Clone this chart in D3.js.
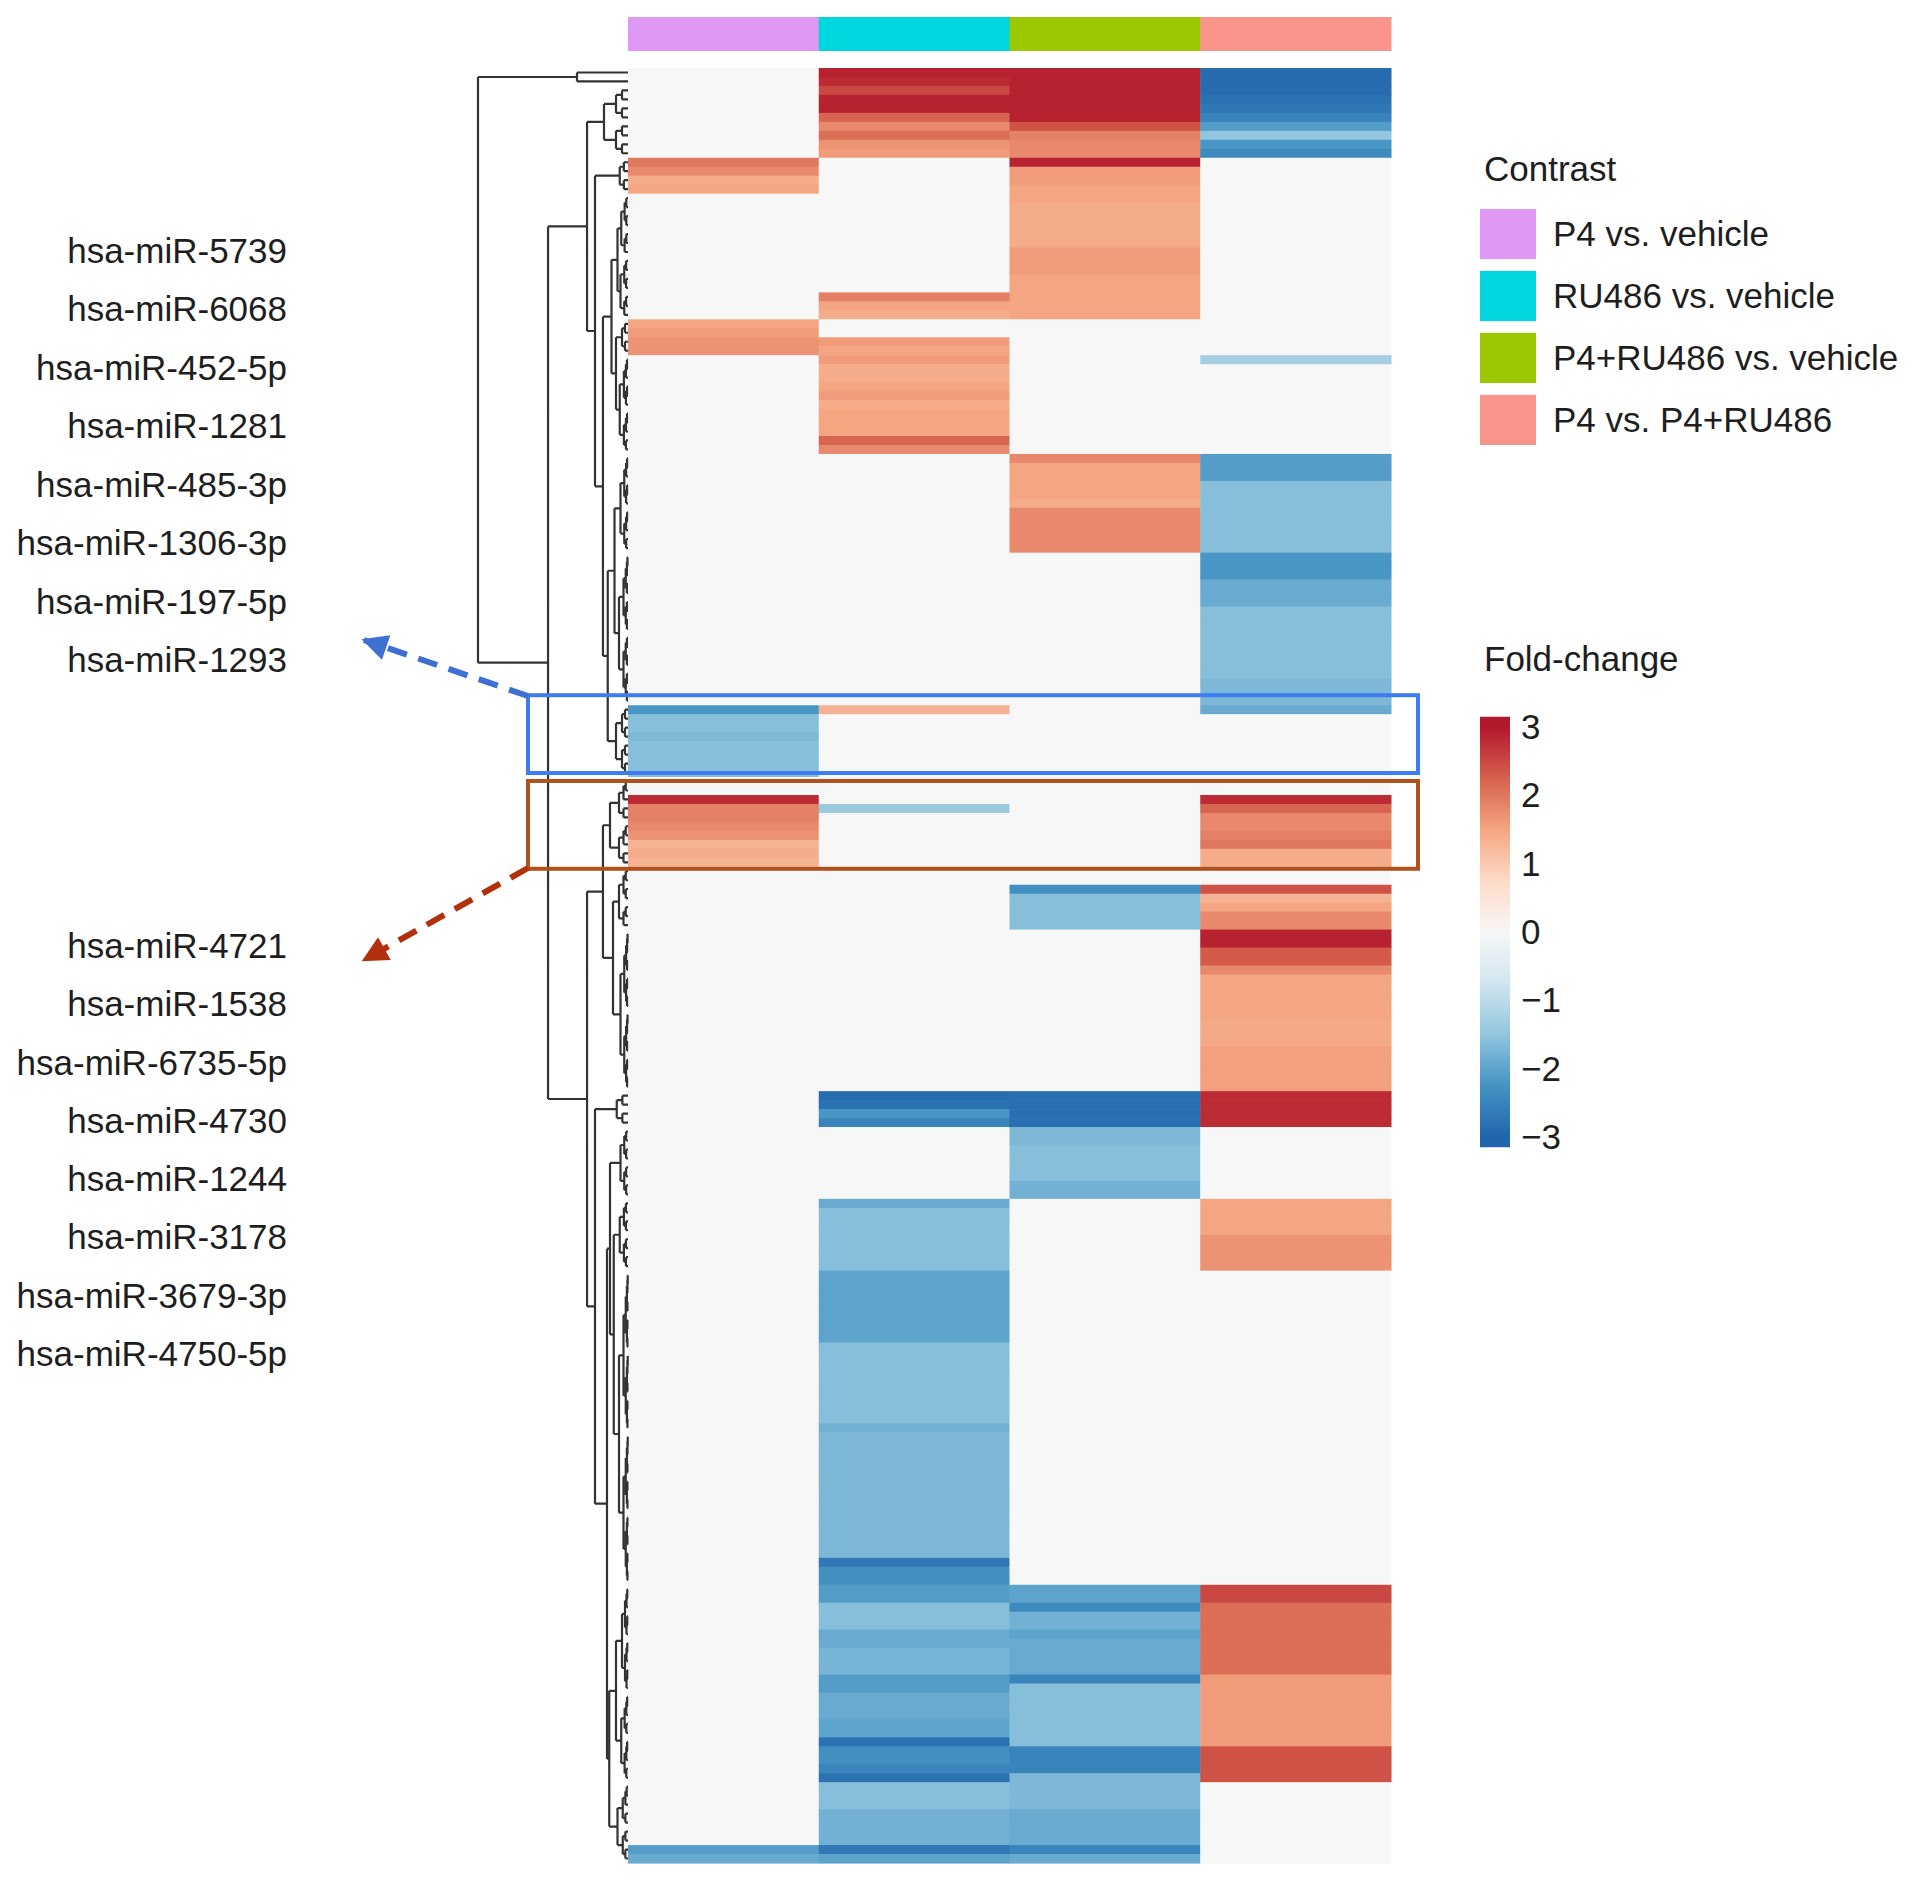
<!DOCTYPE html>
<html>
<head>
<meta charset="utf-8">
<script src="https://cdn.jsdelivr.net/npm/d3@7"></script>
<style>
  body { margin: 0; background: #fff; }
  text { font-family: "Liberation Sans", Arial, Helvetica, sans-serif; fill: #1e1e1e; }
</style>
</head>
<body>
<div id="chart"></div>
<script>
// ---- data ----
const contrasts = ["P4 vs. vehicle", "RU486 vs. vehicle", "P4+RU486 vs. vehicle", "P4 vs. P4+RU486"];
const contrastColors = ["#df99f5", "#00d6dd", "#9bc800", "#f8948a"];
const nRows = 200;

// fold-change runs per contrast: [firstRow, lastRow, value]; rows not listed are 0
const p4VsVehicle = [
  [10, 10, 2.0], [11, 11, 1.8], [12, 12, 1.4], [13, 13, 1.5],
  [28, 28, 1.5], [29, 29, 1.6], [30, 31, 1.7],
  [71, 71, -2.2], [72, 73, -1.6], [74, 74, -1.7], [75, 78, -1.6],
  [81, 81, 2.8], [82, 83, 1.9], [84, 84, 1.8], [85, 85, 1.7], [86, 86, 1.3], [87, 87, 1.4], [88, 88, 1.3],
  [198, 198, -2.1], [199, 199, -1.9]
];
const ru486VsVehicle = [
  [0, 0, 2.9], [1, 1, 2.8], [2, 2, 2.5], [3, 4, 2.9], [5, 5, 2.2], [6, 6, 1.8], [7, 7, 2.1], [8, 8, 1.7], [9, 9, 1.6],
  [25, 25, 1.9], [26, 26, 1.5], [27, 27, 1.4],
  [30, 30, 1.6], [31, 31, 1.5], [32, 32, 1.6], [33, 34, 1.4], [35, 35, 1.5], [36, 36, 1.6], [37, 37, 1.4],
  [38, 40, 1.5], [41, 41, 2.2], [42, 42, 1.8],
  [71, 71, 1.3],
  [82, 82, -1.4],
  [114, 114, -2.9], [115, 115, -2.8], [116, 116, -2.2], [117, 117, -2.5],
  [126, 126, -1.9], [127, 133, -1.6], [134, 141, -2.0], [142, 150, -1.6], [151, 151, -1.8], [152, 165, -1.7],
  [166, 166, -2.7], [167, 168, -2.3],
  [169, 170, -2.1], [171, 173, -1.6], [174, 175, -1.9], [176, 178, -1.75], [179, 180, -2.1], [181, 183, -1.9],
  [184, 185, -2.0], [186, 186, -2.8], [187, 188, -2.3], [189, 189, -2.5], [190, 190, -2.8], [191, 193, -1.6],
  [194, 197, -1.8], [198, 198, -2.7], [199, 199, -2.0]
];
const p4Ru486VsVehicle = [
  [0, 5, 2.9], [6, 6, 2.4], [7, 7, 1.9], [8, 9, 1.8],
  [10, 10, 2.9],
  [11, 12, 1.6], [13, 14, 1.5], [15, 19, 1.4], [20, 22, 1.6], [23, 27, 1.5],
  [43, 43, 1.8], [44, 47, 1.5], [48, 48, 1.4], [49, 53, 1.8],
  [91, 91, -2.3], [92, 95, -1.6],
  [114, 117, -2.85],
  [118, 119, -1.7], [120, 123, -1.6], [124, 125, -1.8],
  [169, 170, -2.0], [171, 171, -2.4], [172, 173, -1.8], [174, 174, -2.0], [175, 178, -1.9], [179, 179, -2.5],
  [180, 186, -1.6], [187, 189, -2.5], [190, 193, -1.7], [194, 197, -1.9], [198, 198, -2.5], [199, 199, -1.9]
];
const p4VsP4Ru486 = [
  [0, 2, -2.9], [3, 3, -2.8], [4, 4, -2.7], [5, 5, -2.5], [6, 6, -2.1], [7, 7, -1.5], [8, 8, -2.2], [9, 9, -2.4],
  [32, 32, -1.3],
  [43, 45, -2.1], [46, 53, -1.6], [54, 56, -2.2], [57, 59, -1.9], [60, 67, -1.6], [68, 70, -1.7], [71, 71, -1.9],
  [81, 81, 2.8], [82, 82, 2.2], [83, 84, 1.8], [85, 85, 1.9], [86, 86, 2.0], [87, 88, 1.4],
  [91, 91, 2.4], [92, 92, 1.3], [93, 93, 1.5], [94, 95, 1.8], [96, 97, 2.9], [98, 99, 2.3], [100, 100, 1.8],
  [101, 105, 1.5], [106, 108, 1.45], [109, 113, 1.55],
  [114, 117, 2.8],
  [126, 129, 1.5], [130, 133, 1.7],
  [169, 170, 2.5], [171, 178, 2.1], [179, 186, 1.6], [187, 190, 2.4]
];

const topLabels = ["hsa-miR-5739", "hsa-miR-6068", "hsa-miR-452-5p", "hsa-miR-1281",
  "hsa-miR-485-3p", "hsa-miR-1306-3p", "hsa-miR-197-5p", "hsa-miR-1293"];
const bottomLabels = ["hsa-miR-4721", "hsa-miR-1538", "hsa-miR-6735-5p", "hsa-miR-4730",
  "hsa-miR-1244", "hsa-miR-3178", "hsa-miR-3679-3p", "hsa-miR-4750-5p"];
const foldTicks = [3, 2, 1, 0, -1, -2, -3];

// row dendrogram: {h: merge height, c: children}; number = single row, [a, b, h] = tight cluster of rows a..b
const rowTree = { h: 10, c: [
  { h: 3.4, c: [0, 1] },
  { h: 5.33, c: [
    { h: 2.73, c: [
      [2, 9, 1.6],
      { h: 2.2, c: [
        [10, 13, 0.55],
        { h: 1.67, c: [
          { h: 1.1, c: [
            { h: 0.7, c: [[14, 20, 0.45], [21, 27, 0.5]] },
            { h: 0.8, c: [[28, 31, 0.4], [32, 42, 0.55]] }
          ] },
          { h: 1.35, c: [
            { h: 0.9, c: [[43, 53, 0.5], [54, 70, 0.6]] },
            [71, 78, 0.8]
          ] }
        ] }
      ] }
    ] },
    { h: 2.73, c: [
      { h: 1.67, c: [
        [79, 88, 1.2],
        { h: 1.0, c: [[89, 95, 0.6], [96, 113, 0.5]] }
      ] },
      { h: 2.2, c: [
        [114, 117, 0.75],
        { h: 1.4, c: [
          { h: 1.2, c: [
            [118, 125, 0.5],
            { h: 0.95, c: [[126, 133, 0.55], [134, 168, 0.6]] }
          ] },
          { h: 1.25, c: [
            { h: 0.8, c: [[169, 180, 0.4], [181, 190, 0.45]] },
            [191, 199, 0.7]
          ] }
        ] }
      ] }
    ] }
  ] }
] };

// ---- layout ----
const W = 1913, H = 1895;
const svg = d3.select("#chart").append("svg")
  .attr("width", W)
  .attr("height", H);

const x = d3.scaleBand().domain(contrasts).range([628, 1391]);
const y = d3.scaleBand().domain(d3.range(nRows)).range([68, 1863]);

const color = d3.scaleLinear()
  .domain([-3, -2.25, -1.5, -0.75, 0, 0.75, 1.5, 2.25, 3])
  .range(["#2166ac", "#4393c3", "#92c5de", "#d1e5f0", "#f7f7f7", "#fddbc7", "#f4a582", "#d6604d", "#b2182b"])
  .clamp(true);

// build the matrix from the runs
const runsByContrast = [p4VsVehicle, ru486VsVehicle, p4Ru486VsVehicle, p4VsP4Ru486];
const cells = [];
runsByContrast.forEach((runs, ci) => {
  const vals = new Array(nRows).fill(0);
  runs.forEach(([a, b, v]) => { for (let r = a; r <= b; r++) vals[r] = v; });
  vals.forEach((v, r) => cells.push({ contrast: contrasts[ci], row: r, value: v }));
});

// column annotation bar
svg.append("g").selectAll("rect")
  .data(contrasts)
  .enter().append("rect")
  .attr("x", d => x(d))
  .attr("y", 17)
  .attr("width", x.bandwidth() + 0.5)
  .attr("height", 34)
  .attr("fill", (d, i) => contrastColors[i]);

// heatmap cells
svg.append("g").selectAll("rect")
  .data(cells)
  .enter().append("rect")
  .attr("x", d => x(d.contrast))
  .attr("y", d => y(d.row))
  .attr("width", x.bandwidth() + 0.5)
  .attr("height", y.bandwidth() + 0.6)
  .attr("fill", d => color(d.value));

// row dendrogram
const xDist = d3.scaleLinear().domain([0, 10]).range([628, 478]);
const rowMid = r => y(r) + y.bandwidth() / 2;

function layoutNode(node) {
  if (typeof node === "number") return { x: xDist(0), y: rowMid(node), kids: [] };
  if (Array.isArray(node)) {
    const [a, b, h] = node;
    if (a === b) return layoutNode(a);
    const m = Math.floor((a + b) / 2);
    const kids = [layoutNode([a, m, h * 0.5]), layoutNode([m + 1, b, h * 0.5])];
    return { x: xDist(h), y: d3.mean(kids, k => k.y), kids };
  }
  const kids = node.c.map(layoutNode);
  return { x: xDist(node.h), y: d3.mean(kids, k => k.y), kids };
}

const dendroPath = d3.path();
(function drawNode(n) {
  if (!n.kids.length) return;
  const ys = n.kids.map(k => k.y);
  dendroPath.moveTo(n.x, d3.min(ys));
  dendroPath.lineTo(n.x, d3.max(ys));
  n.kids.forEach(k => {
    dendroPath.moveTo(n.x, k.y);
    dendroPath.lineTo(k.x, k.y);
    drawNode(k);
  });
})(layoutNode(rowTree));

svg.append("path")
  .attr("d", dendroPath.toString())
  .attr("fill", "none")
  .attr("stroke", "#333")
  .attr("stroke-width", 2.2);

// highlight boxes (rows covered, extra space above / below)
const boxes = [
  { rows: [71, 78], padTop: 10, padBottom: -4, color: "#3e7cf2" },
  { rows: [81, 88], padTop: 14, padBottom: 2, color: "#b0501c" }
];
svg.append("g").selectAll("rect")
  .data(boxes)
  .enter().append("rect")
  .attr("x", 528)
  .attr("y", d => y(d.rows[0]) - d.padTop)
  .attr("width", 890)
  .attr("height", d => y(d.rows[1]) + y.bandwidth() - y(d.rows[0]) + d.padTop + d.padBottom)
  .attr("fill", "none")
  .attr("stroke", d => d.color)
  .attr("stroke-width", 4);

// dashed arrows pointing at the label groups
const defs = svg.append("defs");
[["arrowBlue", "#3e6fd1"], ["arrowRed", "#b3300c"]].forEach(([id, c]) => {
  defs.append("marker")
    .attr("id", id)
    .attr("viewBox", "0 0 10 10")
    .attr("refX", 9)
    .attr("refY", 5)
    .attr("markerUnits", "userSpaceOnUse")
    .attr("markerWidth", 30)
    .attr("markerHeight", 26)
    .attr("orient", "auto")
    .append("path")
    .attr("d", "M0,0L10,5L0,10Z")
    .attr("fill", c);
});

svg.append("line")
  .attr("x1", 528).attr("y1", 696)
  .attr("x2", 364).attr("y2", 640)
  .attr("stroke", "#3e6fd1")
  .attr("stroke-width", 6)
  .attr("stroke-dasharray", "20,12")
  .attr("marker-end", "url(#arrowBlue)");

svg.append("line")
  .attr("x1", 528).attr("y1", 868)
  .attr("x2", 364).attr("y2", 960)
  .attr("stroke", "#b3300c")
  .attr("stroke-width", 6)
  .attr("stroke-dasharray", "20,12")
  .attr("marker-end", "url(#arrowRed)");

// miRNA labels
const topPos = d3.scalePoint().domain(topLabels).range([263, 672]);
const bottomPos = d3.scalePoint().domain(bottomLabels).range([958, 1366]);
const labelG = svg.append("g")
  .attr("font-size", 35)
  .attr("text-anchor", "end");
labelG.selectAll(".top")
  .data(topLabels)
  .enter().append("text")
  .attr("x", 287)
  .attr("y", d => topPos(d))
  .text(d => d);
labelG.selectAll(".bottom")
  .data(bottomLabels)
  .enter().append("text")
  .attr("x", 287)
  .attr("y", d => bottomPos(d))
  .text(d => d);

// Contrast legend
const legend = svg.append("g").attr("font-size", 35);
legend.append("text")
  .attr("x", 1484)
  .attr("y", 181)
  .text("Contrast");
const legY = d3.scaleBand().domain(contrasts).range([209, 445]).paddingInner(0.19);
legend.selectAll("rect")
  .data(contrasts)
  .enter().append("rect")
  .attr("x", 1480)
  .attr("y", d => legY(d))
  .attr("width", 56)
  .attr("height", legY.bandwidth())
  .attr("fill", (d, i) => contrastColors[i]);
legend.selectAll(".lab")
  .data(contrasts)
  .enter().append("text")
  .attr("x", 1553)
  .attr("y", d => legY(d) + legY.bandwidth() / 2 + 12)
  .text(d => d);

// Fold-change colour bar
const legV = d3.scaleLinear().domain([3, -3]).range([727, 1137]);
const grad = defs.append("linearGradient")
  .attr("id", "foldGrad")
  .attr("x1", 0).attr("y1", 0).attr("x2", 0).attr("y2", 1);
const gStops = d3.range(3.15, -3.16, -0.15);
grad.selectAll("stop")
  .data(gStops)
  .enter().append("stop")
  .attr("offset", (d, i) => i / (gStops.length - 1))
  .attr("stop-color", d => color(d));

legend.append("text")
  .attr("x", 1484)
  .attr("y", 671)
  .text("Fold-change");
legend.append("rect")
  .attr("x", 1480)
  .attr("y", legV(3.15))
  .attr("width", 30)
  .attr("height", legV(-3.15) - legV(3.15))
  .attr("fill", "url(#foldGrad)");
legend.selectAll(".tick")
  .data(foldTicks)
  .enter().append("text")
  .attr("x", 1521)
  .attr("y", d => legV(d) + 12)
  .text(d => d < 0 ? "\u2212" + Math.abs(d) : d);
</script>
</body>
</html>
